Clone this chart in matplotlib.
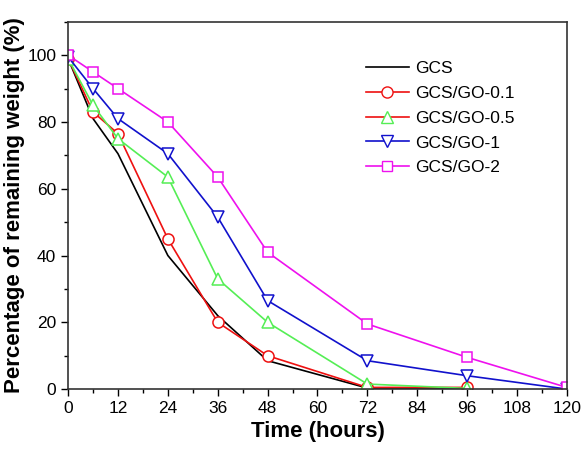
import numpy as np
import matplotlib.pyplot as plt
from matplotlib.lines import Line2D
from matplotlib.ticker import MultipleLocator

plt.rcParams['font.family'] = ['Liberation Sans', 'DejaVu Sans']

hours = [0, 6, 12, 24, 36, 48, 72, 96]
hours_long = [0, 6, 12, 24, 36, 48, 72, 96, 120]

gcs = [99, 81, 70.5, 40, 22, 8.5, 0.3, 0]
go01 = [99, 83, 76.5, 45, 20, 10, 0.5, 0.5]
go05 = [99, 85, 75, 63.5, 33, 20, 1.5, 0.2]
go1 = [99.5, 90, 81, 70.5, 51.5, 26.5, 8.5, 4, 0]
go2 = [100, 95, 90, 80, 63.5, 41, 19.5, 9.5, 0.5]

labels = ['GCS', 'GCS/GO-0.1', 'GCS/GO-0.5', 'GCS/GO-1', 'GCS/GO-2']

fig = plt.figure(figsize=(5.82, 4.54), dpi=100)
ax = fig.add_axes([0.117, 0.143, 0.857, 0.809])

ax.plot(hours, gcs, 'k-', lw=1.2)
ax.plot(hours, go01, '-o', color='#ee1111', mfc='white', ms=8, mew=1.1, lw=1.2)
ax.plot(hours, go05, '-^', color='#55ee55', mfc='white', ms=8.5, mew=1.1, lw=1.2)
ax.plot(hours_long, go1, '-v', color='#1111cc', mfc='white', ms=9, mew=1.1, lw=1.2)
ax.plot(hours_long, go2, '-s', color='#ee11ee', mfc='white', ms=7.5, mew=1.1, lw=1.2)

# legend as in the original figure (0.5 entry drawn with a red line)
handles = [
    Line2D([], [], color='k', lw=1.2),
    Line2D([], [], color='#ee1111', marker='o', mfc='white', ms=8, lw=1.2),
    Line2D([], [], color='#ee1111', marker='^', mec='#55ee55', mfc='white', ms=8.5, lw=1.2),
    Line2D([], [], color='#1111cc', marker='v', mfc='white', ms=9, lw=1.2),
    Line2D([], [], color='#ee11ee', marker='s', mfc='white', ms=7.5, lw=1.2),
]
ax.legend(handles, labels, loc='upper left', bbox_to_anchor=(0.565, 0.935),
          frameon=False, fontsize=12.5, handlelength=2.5, labelspacing=0.55,
          handletextpad=0.35)

ax.set_xlim(0, 120)
ax.set_ylim(0, 110)
ax.xaxis.set_major_locator(MultipleLocator(12))
ax.xaxis.set_minor_locator(MultipleLocator(6))
ax.yaxis.set_major_locator(MultipleLocator(20))
ax.yaxis.set_minor_locator(MultipleLocator(10))
ax.set_yticks([0, 20, 40, 60, 80, 100])
ax.tick_params(which='major', direction='out', length=5, width=1, labelsize=12.5)
ax.tick_params(which='minor', direction='out', length=3, width=1)
for s in ax.spines.values():
    s.set_linewidth(1.2)
    s.set_color('#333333')

ax.set_xlabel('Time (hours)', fontsize=16, fontweight='bold', labelpad=4)
ax.set_ylabel('Percentage of remaining weight (%)', fontsize=16, fontweight='bold', labelpad=2)

fig.savefig('out.png', dpi=100)
